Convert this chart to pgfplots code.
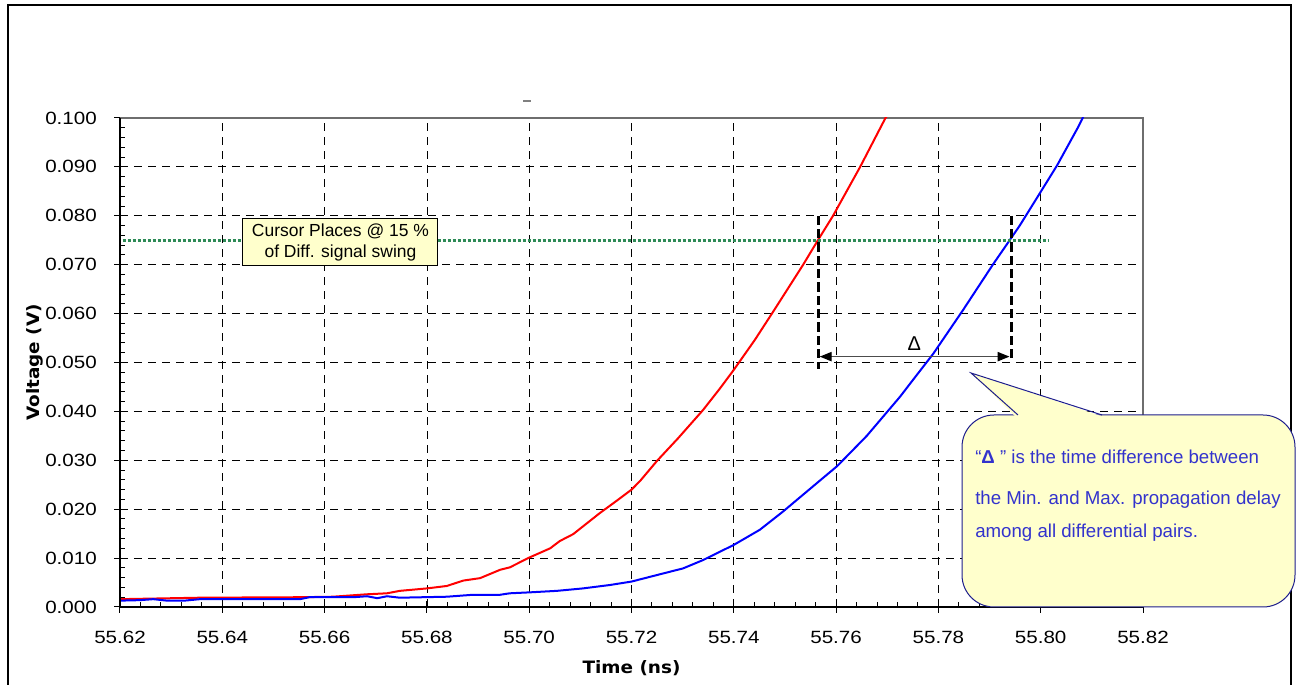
\documentclass[border=0pt]{standalone}
\usepackage{pgfplots}
\pgfplotsset{compat=1.18}
\usepackage{pgfplotstable}
\usepackage{fontspec}
\setmainfont{Liberation Sans}
\newfontfamily\tickfont[FakeStretch=1.16]{Liberation Sans}
\newfontfamily\labfont[FakeStretch=1.08]{DejaVu Sans}
\usetikzlibrary{arrows.meta}
\definecolor{redc}{RGB}{255,0,0}
\definecolor{bluec}{RGB}{0,0,255}
\definecolor{cursorgreen}{RGB}{46,139,87}
\definecolor{notefill}{RGB}{255,255,204}
\definecolor{notedraw}{RGB}{30,30,140}
\definecolor{notetext}{RGB}{51,51,204}
\definecolor{framegray}{RGB}{110,110,110}

\pgfplotstableread{
t v
55.6200 0.0016
55.6304 0.0018
55.6356 0.0019
55.6552 0.0020
55.6616 0.0021
55.6683 0.0026
55.6722 0.0028
55.6747 0.0033
55.6800 0.0038
55.6839 0.0043
55.6871 0.0054
55.6904 0.0059
55.6943 0.0076
55.6962 0.0081
55.7000 0.0101
55.7041 0.0120
55.7060 0.0135
55.7086 0.0149
55.7138 0.0192
55.7172 0.0218
55.7200 0.0240
55.7217 0.0258
55.7250 0.0299
55.7291 0.0345
55.7340 0.0403
55.7373 0.0447
55.7400 0.0485
55.7441 0.0546
55.7477 0.0604
55.7535 0.0699
55.7565 0.0751
55.7594 0.0800
55.7647 0.0900
55.7696 0.0999
55.7700 0.1005
}\redtable

\pgfplotstableread{
t v
55.6200 0.0013
55.6239 0.0014
55.6265 0.0016
55.6292 0.0013
55.6326 0.0013
55.6356 0.0016
55.6552 0.0016
55.6570 0.0020
55.6656 0.0020
55.6683 0.0022
55.6703 0.0018
55.6722 0.0022
55.6747 0.0019
55.6839 0.0021
55.6890 0.0025
55.6943 0.0025
55.6962 0.0028
55.7002 0.0030
55.7054 0.0033
55.7105 0.0038
55.7158 0.0045
55.7200 0.0052
55.7256 0.0067
55.7301 0.0079
55.7340 0.0096
55.7400 0.0127
55.7451 0.0158
55.7496 0.0195
55.7529 0.0224
55.7570 0.0260
55.7602 0.0288
55.7660 0.0350
55.7725 0.0430
55.7750 0.0464
55.7790 0.0518
55.7848 0.0607
55.7907 0.0701
55.7940 0.0751
55.7959 0.0780
55.8000 0.0849
55.8032 0.0903
55.8073 0.0981
55.8083 0.1002
}\bluetable

\begin{document}
\begin{tikzpicture}
\useasboundingbox (0,0) rectangle (972.75pt,513.75pt);
\begin{axis}[
  at={(90pt,58.5pt)}, anchor=south west,
  scale only axis, width=767.25pt, height=366.75pt,
  xmin=55.62, xmax=55.82, ymin=0, ymax=0.1,
  xtick={55.62,55.64,55.66,55.68,55.70,55.72,55.74,55.76,55.78,55.80,55.82},
  xticklabels={55.62,55.64,55.66,55.68,55.70,55.72,55.74,55.76,55.78,55.80,55.82},
  ytick={0,0.01,0.02,0.03,0.04,0.05,0.06,0.07,0.08,0.09,0.1},
  yticklabels={0.000,0.010,0.020,0.030,0.040,0.050,0.060,0.070,0.080,0.090,0.100},
  minor xtick={55.624,55.628,55.632,55.636,55.644,55.648,55.652,55.656,55.664,55.668,55.672,55.676,55.684,55.688,55.692,55.696,55.704,55.708,55.712,55.716,55.724,55.728,55.732,55.736,55.744,55.748,55.752,55.756,55.764,55.768,55.772,55.776,55.784,55.788,55.792,55.796,55.804,55.808,55.812,55.816},
  minor ytick={0.002,0.004,0.006,0.008,0.012,0.014,0.016,0.018,0.022,0.024,0.026,0.028,0.032,0.034,0.036,0.038,0.042,0.044,0.046,0.048,0.052,0.054,0.056,0.058,0.062,0.064,0.066,0.068,0.072,0.074,0.076,0.078,0.082,0.084,0.086,0.088,0.092,0.094,0.096,0.098},
  tick pos=left, tick align=inside,
  major tick length=4.5pt, minor tick length=3.75pt,
  tick style={black, line width=0.75pt},
  minor tick style={black, line width=0.75pt},
  extra x ticks={55.62,55.64,55.66,55.68,55.70,55.72,55.74,55.76,55.78,55.80,55.82},
  extra x tick labels={},
  extra y ticks={0,0.01,0.02,0.03,0.04,0.05,0.06,0.07,0.08,0.09,0.1},
  extra y tick labels={},
  extra tick style={tick align=outside, grid=none, major tick length=4.5pt},
  grid=major,
  major grid style={black, line width=0.6pt, dash pattern=on 6pt off 4.5pt},
  axis line style={framegray, line width=1pt},
  ticklabel style={font=\tickfont\fontsize{13.3}{16}\selectfont, inner sep=0pt},
  xticklabel style={yshift=-18pt},
  yticklabel style={xshift=-17.25pt},
  xlabel={Time (ns)}, ylabel={Voltage (V)},
  label style={font=\labfont\bfseries\fontsize{12.8}{15}\selectfont},
  xlabel style={at={(axis description cs:0.5,-0.1247)}, anchor=center},
  ylabel style={at={(axis description cs:-0.0831,0.5)}, anchor=center},
]
\addplot[redc, line width=1.5pt, no markers] table[x=t,y=v] {\redtable};
\addplot[bluec, line width=1.5pt, no markers] table[x=t,y=v] {\bluetable};
\addplot[cursorgreen, line width=2.25pt, dash pattern=on 2.25pt off 1.5pt, no markers] coordinates {(55.6205,0.075) (55.8015,0.075)};
\addplot[black, line width=2.25pt, dash pattern=on 7pt off 3pt, no markers] coordinates {(55.7565,0.080) (55.7565,0.0487)};
\addplot[black, line width=2.25pt, dash pattern=on 7pt off 3pt, no markers] coordinates {(55.7942,0.080) (55.7942,0.0508)};
\draw[{Triangle[length=9pt,width=7pt,color=black]}-{Triangle[length=9pt,width=7pt,color=black]}, gray!60!black, line width=1pt] (axis cs:55.7568,0.0512) -- (axis cs:55.7939,0.0512);
\node[font=\fontsize{15}{18}\selectfont, anchor=base] at (axis cs:55.7753,0.0525) {Δ};
\node[draw=black, fill=notefill, line width=0.75pt, minimum width=146.25pt, minimum height=35.25pt, align=center, inner sep=0pt, font=\fontsize{13.1}{16.2}\selectfont] at (axis cs:55.6631,0.07454) {Cursor Places @ 15 \%\\of Diff. signal swing};
\end{axis}
\begin{scope}[x=0.75pt, y=-0.75pt, yshift=513.75pt]
  \draw[black, line width=1pt] (120,118) -- (120,607) -- (1143,607);
  \draw[gray, line width=1pt] (523,101) -- (531,101);
  \draw[black, line width=1.5pt] (8,700) -- (8,5) -- (1291,5) -- (1291,700);
  \filldraw[fill=notefill, draw=notedraw, line width=0.75pt, rounded corners=24pt] (962,415) rectangle (1295,607);
  \fill[notefill] (1016,417) -- (971,373) -- (1104,417) -- cycle;
  \draw[notedraw, line width=0.75pt] (1018,415) -- (971,373) -- (1102,415);
  \begin{scope}[every node/.style={anchor=base west, inner sep=0pt, text=notetext, font=\fontsize{14}{16}\selectfont}]
    \node at (975,464) {“\textbf{Δ} ” is the time difference between};
    \node at (975,505) {the Min. and Max. propagation delay};
    \node at (975,538) {among all differential pairs.};
  \end{scope}
\end{scope}
\end{tikzpicture}
\end{document}
